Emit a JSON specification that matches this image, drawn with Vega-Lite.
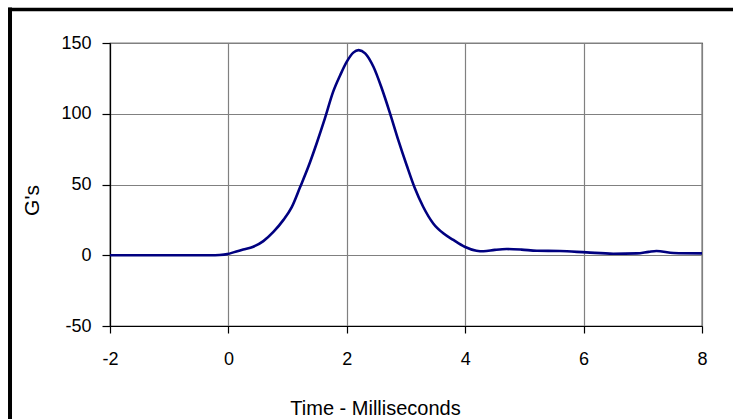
{
  "$schema": "https://vega.github.io/schema/vega-lite/v6.json",
  "width": 592,
  "height": 283,
  "autosize": {"type": "none"},
  "padding": {"left": 110, "top": 43, "right": 31, "bottom": 93},
  "background": "white",
  "config": {
    "view": {"stroke": "black", "strokeWidth": 1.2},
    "font": "Liberation Sans"
  },
  "datasets": {
    "curve": [
      {"t": -2.0, "g": 0}, {"t": -1.0, "g": 0}, {"t": -0.3, "g": 0}, {"t": -0.15, "g": 0.2},
      {"t": -0.02, "g": 0.8}, {"t": 0.12, "g": 2.5}, {"t": 0.25, "g": 4}, {"t": 0.42, "g": 6},
      {"t": 0.59, "g": 10}, {"t": 0.76, "g": 16.5}, {"t": 0.93, "g": 25}, {"t": 1.07, "g": 34},
      {"t": 1.21, "g": 48}, {"t": 1.35, "g": 62.5}, {"t": 1.49, "g": 79}, {"t": 1.63, "g": 96.7},
      {"t": 1.77, "g": 115.6}, {"t": 1.89, "g": 127.4}, {"t": 2.0, "g": 136.8}, {"t": 2.11, "g": 143.2},
      {"t": 2.2, "g": 145}, {"t": 2.31, "g": 142.7}, {"t": 2.45, "g": 133.2}, {"t": 2.59, "g": 118},
      {"t": 2.73, "g": 100.3}, {"t": 2.87, "g": 81.4}, {"t": 3.01, "g": 63.8}, {"t": 3.15, "g": 47.3},
      {"t": 3.29, "g": 34.3}, {"t": 3.46, "g": 22.5}, {"t": 3.63, "g": 15.5}, {"t": 3.8, "g": 10.8},
      {"t": 3.99, "g": 6}, {"t": 4.19, "g": 3.2}, {"t": 4.31, "g": 2.8}, {"t": 4.5, "g": 3.8},
      {"t": 4.7, "g": 4.4}, {"t": 4.95, "g": 4.0}, {"t": 5.21, "g": 3.2}, {"t": 5.6, "g": 3},
      {"t": 6.05, "g": 2}, {"t": 6.5, "g": 1.1}, {"t": 6.9, "g": 1.3}, {"t": 7.1, "g": 2.4},
      {"t": 7.23, "g": 3}, {"t": 7.52, "g": 1.6}, {"t": 8.0, "g": 1.3}
    ]
  },
  "layer": [
    {
      "data": {"name": "curve"},
      "mark": {"type": "line", "color": "#000080", "strokeWidth": 2.6, "interpolate": "monotone"},
      "encoding": {
        "x": {
          "field": "t", "type": "quantitative",
          "scale": {"domain": [-2, 8], "nice": false, "zero": false},
          "axis": {
            "values": [-2, 0, 2, 4, 6, 8],
            "labelExpr": "'' + datum.value",
            "title": "Time - Milliseconds",
            "grid": true, "gridColor": "#808080", "gridWidth": 1.2,
            "domainColor": "black", "domainWidth": 1.2,
            "tickColor": "black", "tickSize": 7, "tickWidth": 1.2,
            "labelFont": "Liberation Sans", "labelFontSize": 18, "labelColor": "black",
            "labelPadding": 17, "labelFlush": false,
            "titleFont": "Liberation Sans", "titleFontSize": 20, "titleFontWeight": "normal", "titleColor": "black",
            "titleX": 265, "titleY": 88, "titleBaseline": "alphabetic", "titleAnchor": null, "titleAlign": "center"
          }
        },
        "y": {
          "field": "g", "type": "quantitative",
          "scale": {"domain": [-50, 150], "nice": false},
          "axis": {
            "values": [-50, 0, 50, 100, 150],
            "labelExpr": "'' + datum.value",
            "title": "G's",
            "grid": true, "gridColor": "#808080", "gridWidth": 1.2,
            "domainColor": "black", "domainWidth": 1.2,
            "tickColor": "black", "tickSize": 8, "tickWidth": 1.2,
            "labelFont": "Liberation Sans", "labelFontSize": 18, "labelColor": "black",
            "labelPadding": 11,
            "titleFont": "Liberation Sans", "titleFontSize": 21, "titleFontWeight": "normal", "titleColor": "black",
            "titleX": -72, "titleY": 157, "titleBaseline": "alphabetic", "titleAnchor": null, "titleAlign": "center", "titleAngle": -90
          }
        }
      }
    },
    {
      "data": {"values": [{"x": -3.689, "y": 173.67, "y2": -250}]},
      "mark": {"type": "rule", "color": "black", "strokeWidth": 4, "strokeCap": "square"},
      "encoding": {
        "x": {"field": "x", "type": "quantitative"},
        "y": {"field": "y", "type": "quantitative"},
        "y2": {"field": "y2"}
      }
    },
    {
      "data": {"values": [{"x": -3.689, "x2": 14, "y": 173.67}]},
      "mark": {"type": "rule", "color": "black", "strokeWidth": 3.5, "strokeCap": "square"},
      "encoding": {
        "x": {"field": "x", "type": "quantitative"},
        "x2": {"field": "x2"},
        "y": {"field": "y", "type": "quantitative"}
      }
    }
  ]
}
